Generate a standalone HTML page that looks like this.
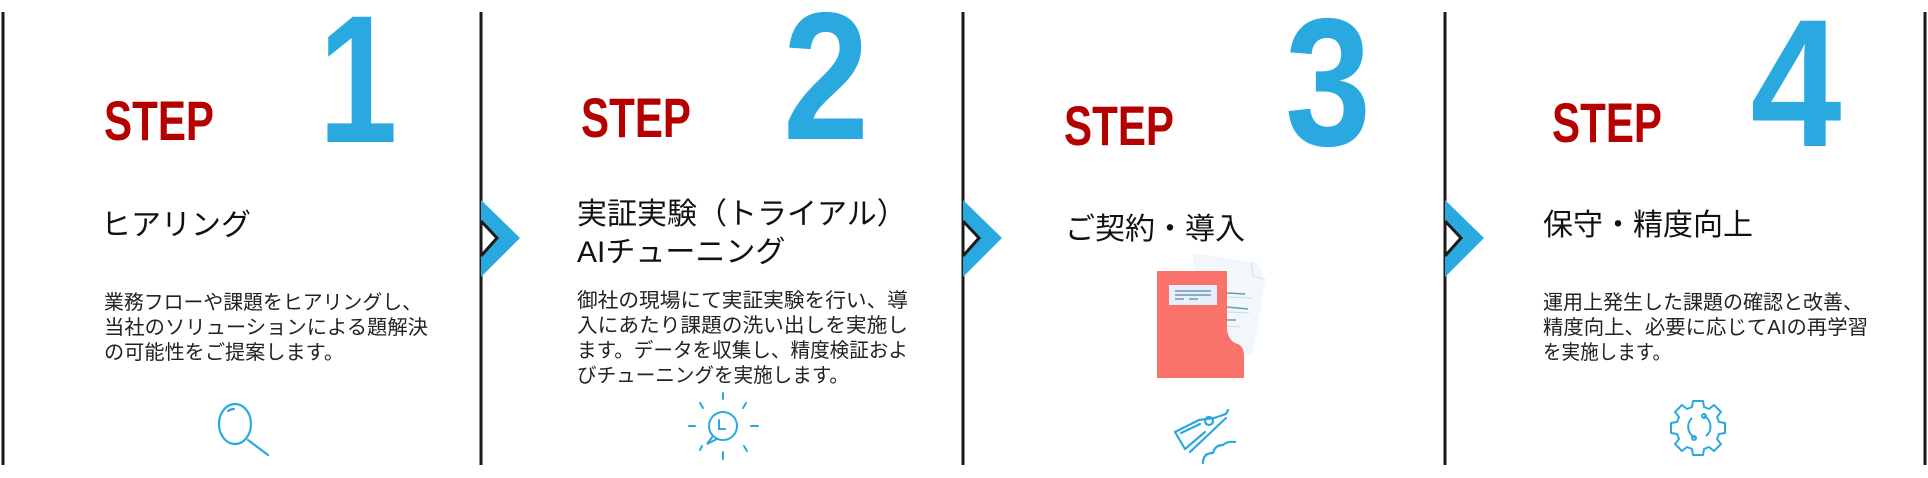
<!DOCTYPE html>
<html><head><meta charset="utf-8"><style>
html,body{margin:0;padding:0;background:#fff;}
svg{display:block}
.st{font-family:"Liberation Sans",sans-serif;font-weight:bold;fill:#b50000;font-size:56px}
.num{font-family:"Liberation Sans",sans-serif;font-weight:bold;fill:#29a9e0;font-size:182px}
.tt{font-family:"Liberation Sans","Noto Sans CJK JP",sans-serif;fill:#111;font-size:30px}
.bd{font-family:"Liberation Sans","Noto Sans CJK JP",sans-serif;fill:#222;font-size:20px}
</style></head><body>
<svg width="1928" height="478" viewBox="0 0 1928 478" xmlns="http://www.w3.org/2000/svg">
<g stroke="#1a1a1a" stroke-width="3">
<line x1="3" y1="12" x2="3" y2="465"/>
<line x1="481" y1="12" x2="481" y2="465"/>
<line x1="963" y1="12" x2="963" y2="465"/>
<line x1="1445" y1="12" x2="1445" y2="465"/>
<line x1="1925" y1="12" x2="1925" y2="465"/>
</g>
<g>
<polygon points="481,200 520,238 481,277 481,256 497,238 481,221" fill="#29a9e0"/>
<polyline points="481,221 497,238 481,256" fill="none" stroke="#1a1a1a" stroke-width="3"/>
<polygon points="963,200 1002,238 963,277 963,256 979,238 963,221" fill="#29a9e0"/>
<polyline points="963,221 979,238 963,256" fill="none" stroke="#1a1a1a" stroke-width="3"/>
<polygon points="1445,200 1484,238 1445,277 1445,256 1461,238 1445,221" fill="#29a9e0"/>
<polyline points="1445,221 1461,238 1445,256" fill="none" stroke="#1a1a1a" stroke-width="3"/>
</g>
<text class="st" x="104" y="140" textLength="110" lengthAdjust="spacingAndGlyphs">STEP</text>
<text class="st" x="581" y="137" textLength="110" lengthAdjust="spacingAndGlyphs">STEP</text>
<text class="st" x="1064" y="145" textLength="110" lengthAdjust="spacingAndGlyphs">STEP</text>
<text class="st" x="1552" y="142" textLength="110" lengthAdjust="spacingAndGlyphs">STEP</text>
<text class="num" text-anchor="middle" transform="translate(358,142) scale(0.78,1)">1</text>
<text class="num" text-anchor="middle" transform="translate(826,139) scale(0.85,1)">2</text>
<text class="num" text-anchor="middle" transform="translate(1328,145) scale(0.85,1)">3</text>
<text class="num" text-anchor="middle" transform="translate(1796,146) scale(0.9,1)">4</text>

<text class="tt" x="101" y="235">ヒアリング</text>
<text class="tt" x="577" y="224">実証実験（トライアル）</text>
<text class="tt" x="577" y="262">AIチューニング</text>
<text class="tt" x="1065" y="239">ご契約・導入</text>
<text class="tt" x="1543" y="235">保守・精度向上</text>

<text class="bd" x="104" y="309" textLength="318" lengthAdjust="spacingAndGlyphs">業務フローや課題をヒアリングし、</text>
<text class="bd" x="104" y="334" textLength="324" lengthAdjust="spacingAndGlyphs">当社のソリューションによる題解決</text>
<text class="bd" x="104" y="359" textLength="240" lengthAdjust="spacingAndGlyphs">の可能性をご提案します。</text>

<text class="bd" x="577" y="307" textLength="331" lengthAdjust="spacingAndGlyphs">御社の現場にて実証実験を行い、導</text>
<text class="bd" x="577" y="332" textLength="331" lengthAdjust="spacingAndGlyphs">入にあたり課題の洗い出しを実施し</text>
<text class="bd" x="577" y="357" textLength="331" lengthAdjust="spacingAndGlyphs">ます。データを収集し、精度検証およ</text>
<text class="bd" x="577" y="382" textLength="272" lengthAdjust="spacingAndGlyphs">びチューニングを実施します。</text>

<text class="bd" x="1543" y="309" textLength="320" lengthAdjust="spacingAndGlyphs">運用上発生した課題の確認と改善、</text>
<text class="bd" x="1543" y="334" textLength="325" lengthAdjust="spacingAndGlyphs">精度向上、必要に応じてAIの再学習</text>
<text class="bd" x="1543" y="359" textLength="128" lengthAdjust="spacingAndGlyphs">を実施します。</text>

<g fill="none" stroke="#29a9e0" stroke-width="2.2" stroke-linecap="round">
<ellipse cx="235" cy="424" rx="16" ry="20"/>
<path d="M228 411 q3-2 6-2"/>
<line x1="248" y1="440" x2="268" y2="455"/>
</g>
<g fill="none" stroke="#29a9e0" stroke-width="2" stroke-linecap="round">
<circle cx="723" cy="426" r="14"/>
<path d="M713 436 l-6 8 l10-5"/>
<path d="M719 420 v9 h6"/>
<line x1="723" y1="393" x2="723" y2="399"/>
<line x1="723" y1="452" x2="723" y2="459"/>
<line x1="689" y1="426" x2="695" y2="426"/>
<line x1="751" y1="426" x2="758" y2="426"/>
<line x1="700" y1="403" x2="703" y2="408"/>
<line x1="746" y1="403" x2="743" y2="408"/>
<line x1="744" y1="446" x2="747" y2="451"/>
<line x1="702" y1="446" x2="700" y2="450"/>
</g>
<polygon points="1193,253 1258,263 1265,280 1253,355 1200,352" fill="#f1f7fb"/>
<path d="M1251,262 l2,14 l12,4" fill="none" stroke="#cfe3ee" stroke-width="1"/>
<g stroke="#6b9ab8" stroke-width="1.5"><line x1="1227" y1="293" x2="1245" y2="294"/><line x1="1227" y1="307" x2="1248" y2="309"/><line x1="1227" y1="320" x2="1236" y2="320"/></g>
<g stroke="#bfe0ea" stroke-width="1"><line x1="1227" y1="297" x2="1252" y2="298"/><line x1="1227" y1="312" x2="1249" y2="313"/><line x1="1227" y1="326" x2="1240" y2="327"/></g>
<path d="M1157,271 H1227 V330 Q1229,342 1238,344 Q1244,347 1244,356 V378 H1157 Z" fill="#f9736a"/>
<rect x="1169" y="285" width="48" height="20" fill="#e8eefa"/>
<g stroke="#6b9ab8" stroke-width="1.5"><line x1="1175" y1="291" x2="1211" y2="291"/><line x1="1175" y1="295" x2="1211" y2="295"/><line x1="1175" y1="299" x2="1184" y2="299"/><line x1="1189" y1="299" x2="1198" y2="299"/></g>
<g fill="none" stroke="#29a9e0" stroke-width="2.2" stroke-linecap="round" stroke-linejoin="round">
<path d="M1175,432 L1199,420 L1214,418 L1226,414 L1228,410"/>
<circle cx="1209" cy="421" r="4"/>
<path d="M1175,432 L1185,449 L1205,432"/>
<path d="M1190,452 L1226,418"/>
<path d="M1181,433 L1200,424"/>
<path d="M1203,463 q0,-10 10,-10 q2,-8 10,-8 q4,-4 12,-3"/>
</g>
<g fill="none" stroke="#29a9e0" stroke-width="2" stroke-linejoin="round">
<path d="M1693,401 h10 l1,6 l5,2 l5,-4 l7,7 l-4,5 l2,5 l6,1 v10 l-6,1 l-2,5 l4,5 l-7,7 l-5,-4 l-5,2 l-1,6 h-10 l-1,-6 l-5,-2 l-5,4 l-7,-7 l4,-5 l-2,-5 l-6,-1 v-10 l6,-1 l2,-5 l-4,-5 l7,-7 l5,4 l5,-2 z"/>
<path d="M1692,418 a12,12 0 0 0 4,20"/>
<path d="M1704,416 a12,12 0 0 1 2,20"/>
<circle cx="1704" cy="416" r="2"/>
<circle cx="1694" cy="438" r="2"/>
</g>
</svg>
</body></html>
